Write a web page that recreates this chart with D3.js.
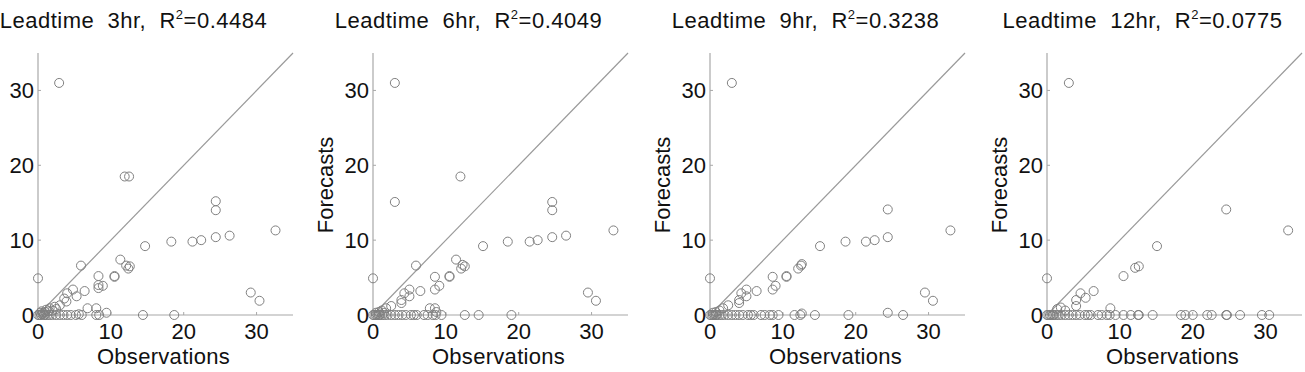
<!DOCTYPE html>
<html><head><meta charset="utf-8">
<script src="https://cdn.jsdelivr.net/npm/d3@7"></script>
<style>body{margin:0;background:#fff}svg{display:block}text{font-family:"Liberation Sans",Arial,sans-serif;fill:#111}</style>
</head><body><svg id="c" width="1305" height="372"></svg>
<script>
const leadtimes = ["3hr","6hr","9hr","12hr"];
const r2Values = ["0.4484","0.4049","0.3238","0.0775"];
const tickValues = [0,10,20,30];

const obs3 = [2.9,11.9,12.5,24.4,24.4,24.4,26.3,32.6,22.4,21.2,18.3,14.7,11.3,12.1,12.4,12.6,10.5,10.5,8.3,8.3,8.3,8.9,5.9,6.4,4.8,5.3,0,4.0,3.6,3.9,3.0,2.3,1.6,1.1,6.8,8.0,9.4,29.2,30.4,
  0,0.2,0.4,0.6,0.8,1.0,1.3,1.6,2.0,2.5,3.0,3.5,4.0,4.5,5.2,5.6,6.0,8.0,8.4,14.4,18.7,0.3,0.5,0.7,1.0,1.5,2.0,2.5];
const fc3 = [31,18.5,18.5,15.2,14.0,10.4,10.6,11.3,10.0,9.8,9.8,9.2,7.4,6.6,6.2,6.5,5.1,5.2,5.2,4.0,3.6,3.9,6.6,3.2,3.4,2.5,4.9,2.9,2.2,1.8,1.3,1.1,0.9,0.7,0.9,0.9,0.3,3.0,1.9,
  0,0,0,0.1,0,0,0,0,0,0,0,0,0,0,0,0.1,0,0,0,0,0,0.3,0.5,0.3,0.4,0.5,0.6,0.8];

const obs6 = [3.0,3.0,12.0,24.6,24.6,24.6,26.5,33.0,22.6,21.5,18.5,15.1,11.4,12.3,12.6,12.1,10.5,10.5,8.5,8.5,9.1,5.9,6.5,5.0,5.0,4.3,3.9,3.9,0,2.5,1.8,1.2,7.8,8.5,8.7,29.5,30.6,
  0,0.2,0.4,0.6,0.8,1.0,1.3,1.6,2.0,2.5,3.0,3.5,4.0,4.5,5.2,5.6,6.0,7.0,7.5,8.2,8.6,9.4,12.6,14.5,19.0,0.4,0.8,1.5];
const fc6 = [31,15.1,18.5,15.1,14.0,10.4,10.6,11.3,10.0,9.8,9.8,9.2,7.4,6.7,6.5,6.2,5.1,5.2,5.1,3.4,3.9,6.6,3.2,3.4,2.5,2.9,2.0,1.6,4.9,1.2,0.9,0.6,0.9,0.9,0.4,3.0,1.9,
  0,0,0,0,0,0,0,0,0,0,0,0,0,0,0,0,0,0,0,0,0,0,0,0,0,0.3,0.4,0.3];

const obs9 = [3.0,24.4,24.4,22.6,21.4,18.6,15.1,12.1,12.5,12.6,10.5,10.5,8.6,8.6,9.0,6.4,5.0,5.0,4.3,4.0,4.0,0,2.5,1.8,1.3,29.5,30.6,33.0,12.6,24.4,
  0,0.2,0.4,0.6,0.8,1.0,1.3,1.6,2.0,2.5,3.0,3.5,4.0,4.5,5.2,5.6,6.0,7.0,7.5,8.2,8.6,9.4,11.6,12.4,14.4,19.0,26.5,0.4,0.8];
const fc9 = [31,14.1,10.4,10.0,9.8,9.8,9.2,6.2,6.6,6.8,5.1,5.2,5.1,3.4,3.9,3.2,3.4,2.5,2.9,2.0,1.6,4.9,1.3,0.9,0.6,3.0,1.9,11.3,0.2,0.3,
  0,0,0,0,0,0,0,0,0,0,0,0,0,0,0,0,0,0,0,0,0,0,0,0,0,0,0,0.3,0.4];

const obs12 = [3.0,24.6,33.1,15.1,12.1,12.6,10.5,6.4,5.3,4.6,4.0,4.0,0,8.7,1.4,1.9,2.5,
  0,0.2,0.4,0.6,0.8,1.0,1.3,1.6,2.0,2.5,3.0,3.5,4.0,4.5,5.2,5.6,6.0,7.0,7.5,8.2,8.6,9.4,10.5,11.5,12.5,12.6,14.5,18.4,19.0,20.0,22.0,22.6,24.6,24.7,26.5,29.5,30.5];
const fc12 = [31,14.1,11.3,9.2,6.3,6.5,5.2,3.2,2.3,2.9,2.0,1.2,4.9,0.9,0.8,1.0,0.6,
  0,0,0,0,0,0,0,0,0,0,0,0,0,0,0,0,0,0,0,0,0,0,0,0,0,0,0,0,0,0,0,0,0,0,0,0,0];

const observations = [obs3, obs6, obs9, obs12];
const forecasts = [fc3, fc6, fc9, fc12];

const svg = d3.select("#c");
const axisLeft = [38, 373, 710, 1047];
const plotW = 255, plotTop = 53, plotBottom = 315;
const axisColor = "#a8a8a8";

axisLeft.forEach((x0, i) => {
  const x = d3.scaleLinear().domain([0,35]).range([x0, x0 + plotW]);
  const y = d3.scaleLinear().domain([0,35]).range([plotBottom, plotTop]);
  const g = svg.append("g");

  g.append("line").attr("x1", x(0)).attr("x2", x(35)).attr("y1", y(0)).attr("y2", y(0)).attr("stroke", axisColor).attr("stroke-width", 1.2);
  g.append("line").attr("x1", x(0)).attr("x2", x(0)).attr("y1", y(0)).attr("y2", y(35)).attr("stroke", axisColor).attr("stroke-width", 1.2);

  g.selectAll(".xt").data(tickValues.slice(1)).join("line")
    .attr("x1", d => x(d)).attr("x2", d => x(d)).attr("y1", y(0)).attr("y2", y(0) - 3)
    .attr("stroke", axisColor);
  g.selectAll(".yt").data(tickValues.slice(1)).join("line")
    .attr("x1", x(0)).attr("x2", x(0) + 3).attr("y1", d => y(d)).attr("y2", d => y(d))
    .attr("stroke", axisColor);

  g.selectAll(".xl").data(tickValues).join("text")
    .attr("x", d => x(d)).attr("y", y(0) + 24).attr("text-anchor", "middle")
    .attr("font-size", 22).text(d => d);
  g.selectAll(".yl").data(tickValues).join("text")
    .attr("x", x(0) - 4).attr("y", d => y(d) + 8).attr("text-anchor", "end")
    .attr("font-size", 22).text(d => d);

  g.append("line").attr("x1", x(0)).attr("y1", y(0)).attr("x2", x(35)).attr("y2", y(35))
    .attr("stroke", "#9a9a9a").attr("stroke-width", 1.2);

  const pts = observations[i].map((o, k) => [o, forecasts[i][k]]);
  g.selectAll("circle").data(pts).join("circle")
    .attr("cx", d => x(d[0])).attr("cy", d => y(d[1])).attr("r", 4.5)
    .attr("fill", "none").attr("stroke", "#808080").attr("stroke-width", 1);

  g.append("text").attr("x", x(17.5) - 2).attr("y", 364).attr("text-anchor", "middle")
    .attr("font-size", 22).attr("letter-spacing", 0.3).text("Observations");
  if (i > 0) {
    g.append("text").attr("transform", `translate(${x0 - 40},${185}) rotate(-90)`)
      .attr("text-anchor", "middle").attr("font-size", 22).text("Forecasts");
  }

  const t = g.append("text").attr("x", x(17.5) - 32).attr("y", 28).attr("text-anchor", "middle")
    .attr("font-size", 22).attr("letter-spacing", 0.5).attr("xml:space", "preserve");
  t.append("tspan").text("Leadtime  " + leadtimes[i] + ",  R");
  t.append("tspan").attr("font-size", 13).attr("dy", -9).text("2");
  t.append("tspan").attr("dy", 9).text("=" + r2Values[i]);
});
</script></body></html>
